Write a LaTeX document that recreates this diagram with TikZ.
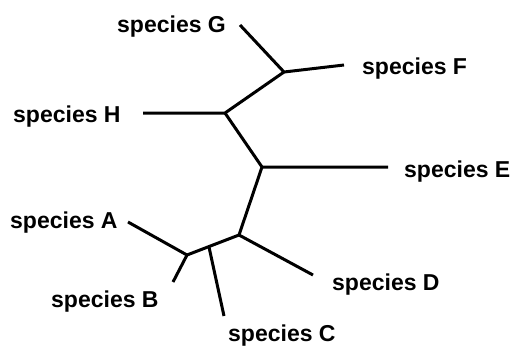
\documentclass[tikz,border=0pt]{standalone}
\usepackage{fontspec}
\setmainfont{Liberation Sans}
\begin{document}
\begin{tikzpicture}[x=1pt,y=-1pt,
  branch/.style={line width=3pt,line cap=butt,line join=round,black},
  lbl/.style={anchor=base west,inner sep=0pt,font=\fontsize{23}{26}\selectfont\bfseries}]
\useasboundingbox (0,0) rectangle (513,349);
% internal nodes
\coordinate (nGF) at (284,72);
\coordinate (nH) at (225,113);
\coordinate (nE) at (262,167);
\coordinate (nD) at (239,235);
\coordinate (nC) at (209,247);
\coordinate (nAB) at (187,255);
% leaf ends
\coordinate (eG) at (240,25);
\coordinate (eF) at (344,65);
\coordinate (eH) at (143,113);
\coordinate (eE) at (388,167);
\coordinate (eD) at (313,275);
\coordinate (eC) at (224,316);
\coordinate (eA) at (128,222);
\coordinate (eB) at (173,282);
% branches
\draw[branch] (eG) -- (nGF) -- (eF);
\draw[branch] (nGF) -- (nH) -- (eH);
\draw[branch] (nH) -- (nE) -- (eE);
\draw[branch] (nE) -- (nD) -- (eD);
\draw[branch] (nD) -- (nAB);
\draw[branch] (nC) -- (eC);
\draw[branch] (eA) -- (nAB) -- (eB);
% labels
\node[lbl] (lG) at (117,32) {species G};
\node[lbl] (lF) at (362,74) {species F};
\node[lbl] (lH) at (13,122) {species H};
\node[lbl] (lE) at (404,177) {species E};
\node[lbl] (lA) at (10,228) {species A};
\node[lbl] (lD) at (332,290) {species D};
\node[lbl] (lB) at (51,307) {species B};
\node[lbl] (lC) at (228,341) {species C};
\end{tikzpicture}
\end{document}
